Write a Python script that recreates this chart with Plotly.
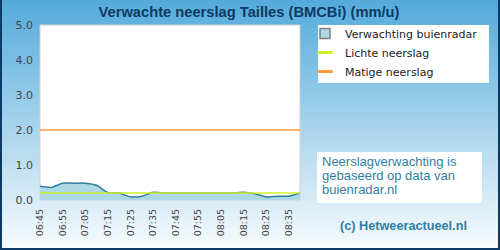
import plotly.graph_objects as go

times = ["06:45", "06:50", "06:55", "07:00", "07:05", "07:10", "07:15", "07:20",
         "07:25", "07:30", "07:35", "07:40", "07:45", "07:50", "07:55", "08:00",
         "08:05", "08:10", "08:15", "08:20", "08:25", "08:30", "08:35", "08:40"]
rain = [0.39, 0.36, 0.48, 0.48, 0.48, 0.42, 0.21, 0.20,
        0.09, 0.11, 0.22, 0.20, 0.20, 0.20, 0.20, 0.20,
        0.20, 0.20, 0.22, 0.18, 0.09, 0.11, 0.11, 0.20]
light_level = 0.2
moderate_level = 2.0
tick_labels = times[::2]
y_ticks = [0, 1, 2, 3, 4, 5]
info_lines = ["Neerslagverwachting is", "gebaseerd op data van", "buienradar.nl"]

W, H = 500, 250
L, R, T, B = 40, 200, 25, 50
PW, PH = W - L - R, H - T - B


def px(x):
    return (x - L) / PW


def py(y):
    return (H - B - y) / PH


idx = list(range(len(times)))
BLUE_FILL = "#aed8e6"
GREEN = "#ccf02a"
ORANGE = "#ff9a3c"
TEAL = "#2e7fa3"

fig = go.Figure()
fig.add_trace(go.Scatter(
    x=idx, y=rain, mode="lines", fill="tozeroy",
    line=dict(color="#2f7c9e", width=1.5, shape="spline", smoothing=0.7),
    fillcolor=BLUE_FILL, showlegend=False, hoverinfo="skip"))
fig.add_trace(go.Scatter(
    x=[idx[0], idx[-1]], y=[light_level, light_level], mode="lines",
    showlegend=False, line=dict(color=GREEN, width=1.5), hoverinfo="skip"))
fig.add_trace(go.Scatter(
    x=[idx[0], idx[-1]], y=[moderate_level, moderate_level], mode="lines",
    showlegend=False, line=dict(color=ORANGE, width=1.5), hoverinfo="skip"))

# legend entries
fig.add_trace(go.Scatter(
    x=[None], y=[None], mode="markers", name="Verwachting buienradar",
    marker=dict(symbol="square", size=10, color=BLUE_FILL,
                line=dict(color="#808080", width=1.5))))
fig.add_trace(go.Scatter(
    x=[None], y=[None], mode="markers", name="Lichte neerslag",
    marker=dict(symbol="line-ew", size=11, line=dict(color=GREEN, width=3))))
fig.add_trace(go.Scatter(
    x=[None], y=[None], mode="markers", name="Matige neerslag",
    marker=dict(symbol="line-ew", size=11, line=dict(color=ORANGE, width=3))))

shapes = []
# background gradient
top = (84, 171, 219)
bot = (248, 251, 253)
n = 125
for i in range(n):
    t = i / (n - 1)
    c = tuple(int(round(top[k] + (bot[k] - top[k]) * t)) for k in range(3))
    y0 = i * H / n
    y1 = (i + 1) * H / n + 0.5
    shapes.append(dict(type="rect", xref="paper", yref="paper", layer="below",
                       x0=px(0), x1=px(W), y0=py(y1), y1=py(y0),
                       fillcolor="rgb(%d,%d,%d)" % c, line=dict(width=0)))
# plot area
shapes.append(dict(type="rect", xref="paper", yref="paper", layer="below",
                   x0=0, x1=1, y0=0, y1=1, fillcolor="white",
                   line=dict(color="#d0d0d0", width=1)))
# legend box
shapes.append(dict(type="rect", xref="paper", yref="paper", layer="below",
                   x0=px(318), x1=px(489), y0=py(83), y1=py(25),
                   fillcolor="white", line=dict(width=0)))
# info box
shapes.append(dict(type="rect", xref="paper", yref="paper", layer="below",
                   x0=px(317), x1=px(482), y0=py(203), y1=py(152),
                   fillcolor="white", line=dict(width=0)))
# dark border left/right/bottom
shapes.append(dict(type="path", xref="paper", yref="paper", layer="above",
                   path="M %f %f L %f %f L %f %f L %f %f" % (
                       px(1), py(0), px(1), py(249), px(499), py(249), px(499), py(0)),
                   line=dict(color="#0b3a66", width=2)))

annotations = []
for k, line in enumerate(info_lines):
    annotations.append(dict(
        text=line, xref="paper", yref="paper", x=px(319.5), y=py(161.5 + 14 * k),
        xanchor="left", yanchor="middle", align="left", showarrow=False,
        font=dict(family="Liberation Sans", size=13, color=TEAL)))
annotations.append(dict(
    text="<b>(c) Hetweeractueel.nl</b>",
    xref="paper", yref="paper", x=px(403.5), y=py(226), xanchor="center", yanchor="middle",
    showarrow=False, font=dict(family="Liberation Sans", size=12.7, color=TEAL)))

fig.update_layout(
    width=W, height=H,
    margin=dict(l=L, r=R, t=T, b=B, autoexpand=False),
    paper_bgcolor="#8cc8e8", plot_bgcolor="rgba(0,0,0,0)",
    title=dict(text="<b>Verwachte neerslag Tailles (BMCBi) (mm/u)</b>",
               x=249 / W, xref="container", xanchor="center",
               y=1 - 12 / H, yref="container", yanchor="middle",
               font=dict(family="Liberation Sans", size=14.7, color="#0e3a62")),
    shapes=shapes,
    annotations=annotations,
    legend=dict(xref="container", yref="container", x=305 / W, y=1 - 19 / H,
                xanchor="left", yanchor="top", bgcolor="rgba(0,0,0,0)",
                font=dict(family="DejaVu Sans", size=11, color="#222222"),
                tracegroupgap=0, borderwidth=0),
    showlegend=True,
)
fig.update_xaxes(range=[0, len(times) - 1], tickmode="array",
                 tickvals=idx[::2], ticktext=tick_labels, tickangle=-90,
                 showgrid=False, zeroline=False, showline=False,
                 ticklabelstandoff=6,
                 tickfont=dict(family="DejaVu Sans", size=9.5, color="#444444"))
fig.update_yaxes(range=[0, 5], tickmode="array", tickvals=y_ticks,
                 tickformat=".1f", showgrid=False, zeroline=False, showline=False,
                 ticklabelstandoff=6,
                 tickfont=dict(family="DejaVu Sans", size=11, color="#444444"))

fig.write_html("out.html")
